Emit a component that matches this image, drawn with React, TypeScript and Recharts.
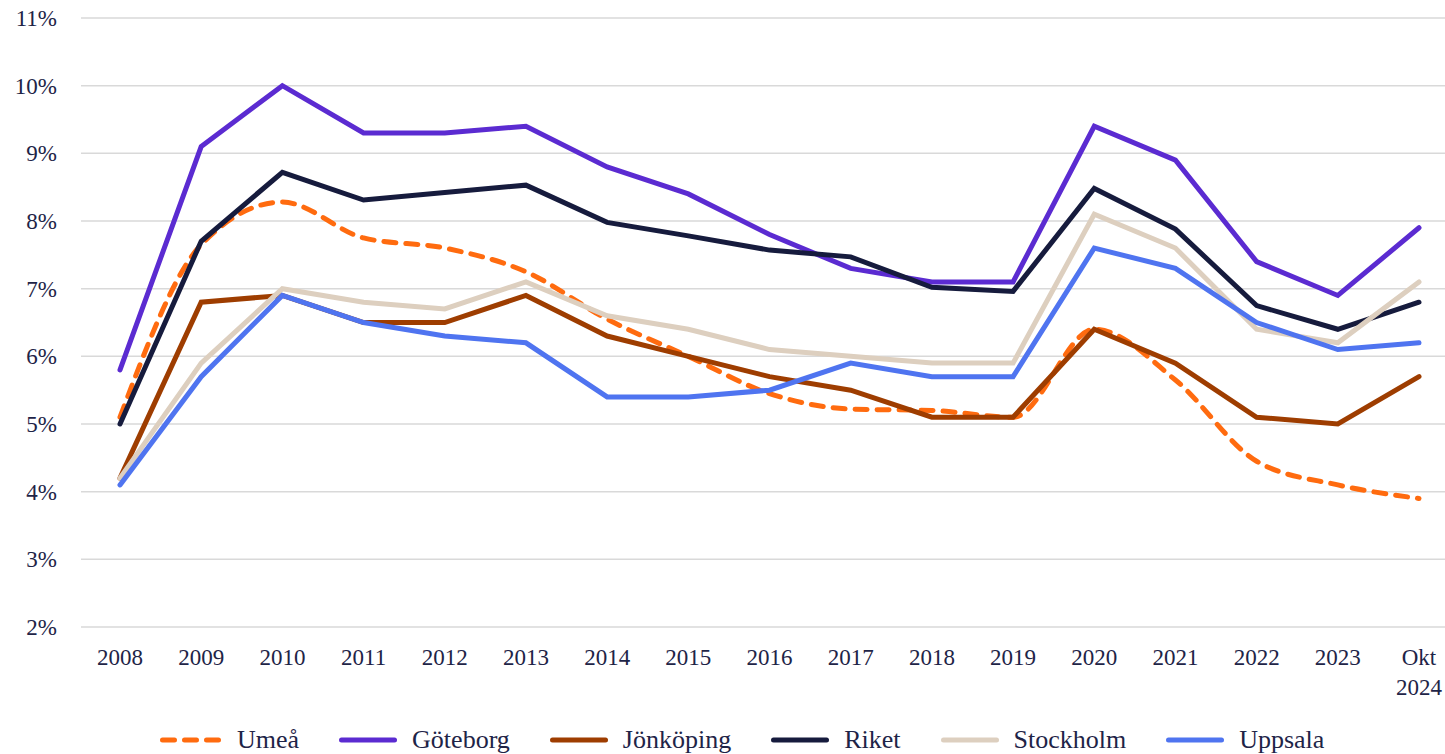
import React from "react";
import { LineChart, Line, XAxis, YAxis, CartesianGrid, Legend } from "recharts";

const years = ["2008", "2009", "2010", "2011", "2012", "2013", "2014", "2015", "2016", "2017", "2018", "2019", "2020", "2021", "2022", "2023", "Okt 2024"];
const umea = [5.1, 7.65, 8.28, 7.75, 7.6, 7.25, 6.55, 6.0, 5.45, 5.22, 5.2, 5.1, 6.4, 5.65, 4.45, 4.1, 3.9];
const goteborg = [5.8, 9.1, 10.0, 9.3, 9.3, 9.4, 8.8, 8.4, 7.8, 7.3, 7.1, 7.1, 9.4, 8.9, 7.4, 6.9, 7.9];
const jonkoping = [4.2, 6.8, 6.9, 6.5, 6.5, 6.9, 6.3, 6.0, 5.7, 5.5, 5.1, 5.1, 6.4, 5.9, 5.1, 5.0, 5.7];
const riket = [5.0, 7.7, 8.72, 8.31, 8.42, 8.53, 7.98, 7.78, 7.57, 7.47, 7.02, 6.96, 8.48, 7.88, 6.75, 6.4, 6.8];
const stockholm = [4.2, 5.9, 7.0, 6.8, 6.7, 7.1, 6.6, 6.4, 6.1, 6.0, 5.9, 5.9, 8.1, 7.6, 6.4, 6.2, 7.1];
const uppsala = [4.1, 5.7, 6.9, 6.5, 6.3, 6.2, 5.4, 5.4, 5.5, 5.9, 5.7, 5.7, 7.6, 7.3, 6.5, 6.1, 6.2];
const yTicks = [2, 3, 4, 5, 6, 7, 8, 9, 10, 11];

const seriesNames = ["Umeå", "Göteborg", "Jönköping", "Riket", "Stockholm", "Uppsala"];
const seriesKeys = ["umea", "goteborg", "jonkoping", "riket", "stockholm", "uppsala"];
const seriesColors = ["#FF6B0F", "#5B2BD1", "#9E3D00", "#161B3D", "#DDCFBF", "#4F74F0"];

const data = years.map((y, i) => ({
  year: y,
  umea: umea[i],
  goteborg: goteborg[i],
  jonkoping: jonkoping[i],
  riket: riket[i],
  stockholm: stockholm[i],
  uppsala: uppsala[i],
}));

const FONT = "'Liberation Serif', 'Times New Roman', serif";
const TEXT = "#1E2447";

const XTick = (props: any) => {
  const { x, y, payload } = props;
  const lines = String(payload.value).split(" ");
  return (
    <text x={x} y={y} textAnchor="middle" fill={TEXT} fontSize={23} fontFamily={FONT}>
      {lines.map((l, i) => (
        <tspan key={i} x={x} dy={i === 0 ? 38 : 30}>
          {l}
        </tspan>
      ))}
    </text>
  );
};

const renderLegend = () => (
  <div style={{ height: 28, width: 1445, display: "flex", alignItems: "center", fontFamily: FONT, fontSize: 26, color: TEXT, lineHeight: "28px" }}>
    <div style={{ width: 160, flexShrink: 0 }} />
    {seriesNames.map((n, i) => (
      <div key={n} style={{ display: "flex", alignItems: "center", marginRight: 40, flexShrink: 0 }}>
        <svg width={i === 0 ? 62 : 58} height={10} style={{ marginRight: 15, display: "block" }}>
          <line
            x1={2.5}
            y1={5}
            x2={i === 0 ? 59.5 : 55.5}
            y2={5}
            stroke={seriesColors[i]}
            strokeWidth={5}
            strokeLinecap="round"
            strokeDasharray={i === 0 ? "12 10" : undefined}
          />
        </svg>
        <span style={{ whiteSpace: "nowrap" }}>{n}</span>
      </div>
    ))}
  </div>
);

export default function App() {
  return (
    <div style={{ position: "absolute", left: 0, top: 0, width: 1445, height: 754, background: "#fff" }}>
      <LineChart width={1445} height={754} data={data} margin={{ top: 18, right: 0, left: 0, bottom: 0 }}>
        <CartesianGrid vertical={false} stroke="#D9D9D9" strokeWidth={1.5} />
        <XAxis
          dataKey="year"
          axisLine={false}
          tickLine={false}
          tickSize={0}
          tickMargin={0}
          interval={0}
          height={99}
          padding={{ left: 39, right: 26 }}
          tick={<XTick />}
        />
        <YAxis
          width={81}
          domain={[2, 11]}
          ticks={yTicks}
          interval={0}
          axisLine={false}
          tickLine={false}
          tickSize={0}
          tickMargin={24}
          tickFormatter={(v: number) => `${v}%`}
          tick={{ fill: TEXT, fontSize: 23, fontFamily: FONT }}
        />
        <Legend verticalAlign="bottom" content={renderLegend} />
        {seriesKeys.map((k, i) => (
          <Line
            key={k}
            dataKey={k}
            name={seriesNames[i]}
            type={i === 0 ? "monotone" : "linear"}
            stroke={seriesColors[i]}
            strokeWidth={5}
            strokeLinecap="round"
            strokeLinejoin="miter"
            strokeDasharray={i === 0 ? "12 10" : undefined}
            dot={false}
            activeDot={false}
            isAnimationActive={false}
          />
        ))}
      </LineChart>
    </div>
  );
}
